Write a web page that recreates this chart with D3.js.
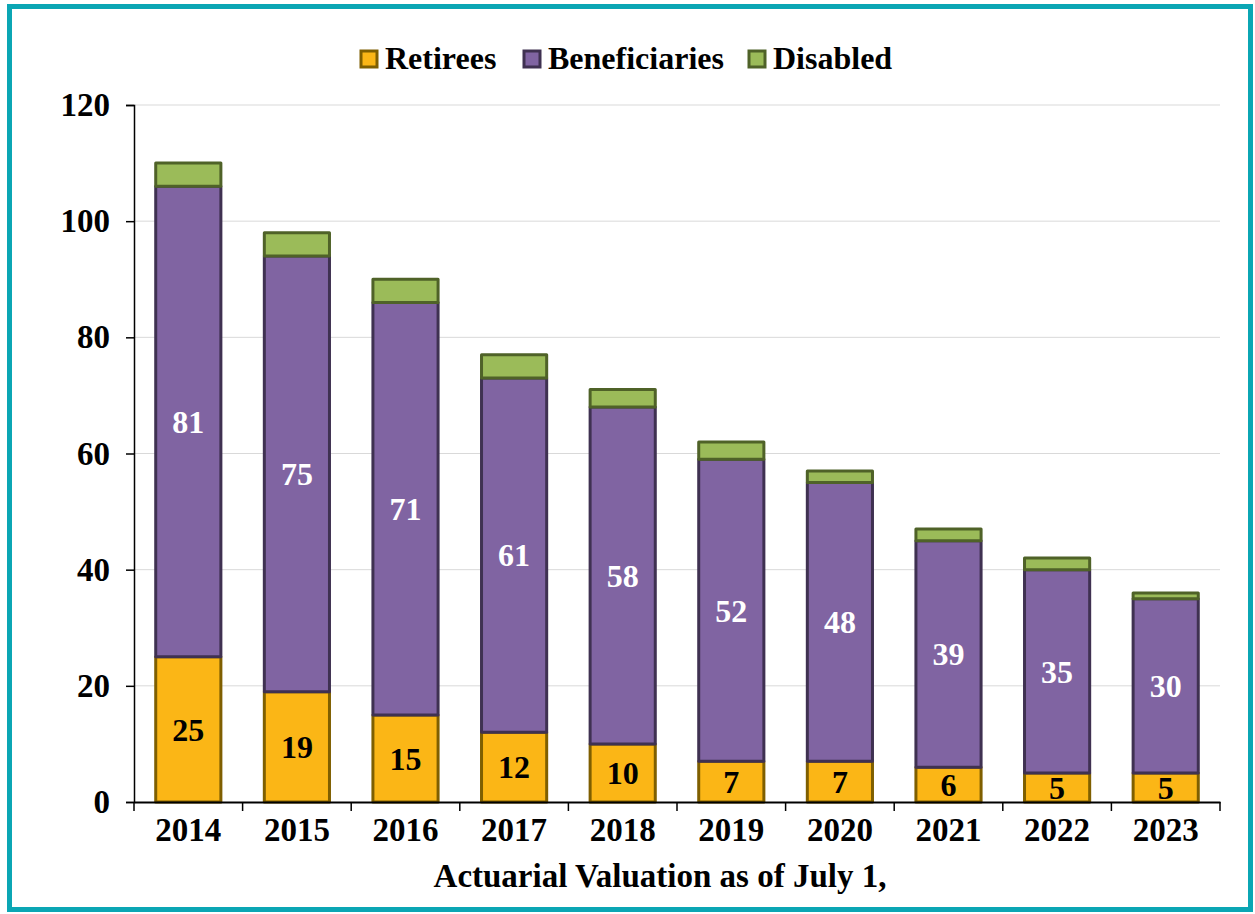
<!DOCTYPE html>
<html>
<head>
  <meta charset="UTF-8">
  <script src="https://d3js.org/d3.v7.min.js"></script>
  <style>
    body { margin: 0; background: #fff; }
    svg text { font-family: "Times New Roman", "Liberation Serif", Tinos, serif; font-weight: bold; }
  </style>
</head>
<body>
  <svg width="1255" height="914" id="chart"></svg>

  <script>
    // data
    let years = ["2014", "2015", "2016", "2017", "2018", "2019", "2020", "2021", "2022", "2023"];
    let retirees = [25, 19, 15, 12, 10, 7, 7, 6, 5, 5];
    let beneficiaries = [81, 75, 71, 61, 58, 52, 48, 39, 35, 30];
    let disabled = [4, 4, 4, 4, 3, 3, 2, 2, 2, 1];
    let yTicks = [0, 20, 40, 60, 80, 100, 120];

    let seriesNames = ["Retirees", "Beneficiaries", "Disabled"];
    let fills = ["#FBB616", "#8064A2", "#9BBB59"];
    let strokes = ["#7F5F00", "#3F3151", "#4F6228"];
    let labelColors = ["#000", "#fff", null];

    let margin = { top: 105, right: 35, bottom: 112, left: 134 };
    let svg = d3.select("#chart");
    let width = +svg.attr("width") - margin.left - margin.right;
    let height = +svg.attr("height") - margin.top - margin.bottom;

    // teal frame
    svg.append("rect")
      .attr("x", 9.5).attr("y", 6.5)
      .attr("width", 1241).attr("height", 903)
      .attr("fill", "none")
      .attr("stroke", "#0BA6B4")
      .attr("stroke-width", 5);

    let table = years.map((y, i) => ({
      year: y, Retirees: retirees[i], Beneficiaries: beneficiaries[i], Disabled: disabled[i]
    }));
    let stacked = d3.stack().keys(seriesNames)(table);

    let x = d3.scaleBand().domain(years).range([0, width]).paddingInner(0.4).paddingOuter(0.2);
    let y = d3.scaleLinear().domain([0, 120]).range([height, 0]);

    let g = svg.append("g").attr("transform", `translate(${margin.left},${margin.top})`);

    // gridlines
    g.append("g")
      .selectAll("line")
      .data(yTicks.filter(t => t > 0))
      .join("line")
      .attr("x1", 0).attr("x2", width)
      .attr("y1", d => y(d)).attr("y2", d => y(d))
      .attr("stroke", "#D9D9D9").attr("stroke-width", 1);

    // bars
    stacked.forEach((s, si) => {
      let layer = g.append("g");
      layer.selectAll("rect")
        .data(s)
        .join("rect")
        .attr("x", d => x(d.data.year))
        .attr("y", d => y(d[1]))
        .attr("width", x.bandwidth())
        .attr("height", d => y(d[0]) - y(d[1]))
        .attr("fill", fills[si])
        .attr("stroke", strokes[si])
        .attr("stroke-width", 3)
        .attr("stroke-linejoin", "round");

      if (labelColors[si]) {
        layer.selectAll("text")
          .data(s)
          .join("text")
          .attr("x", d => x(d.data.year) + x.bandwidth() / 2)
          .attr("y", d => (y(d[0]) + y(d[1])) / 2)
          .attr("dy", "0.35em")
          .attr("text-anchor", "middle")
          .attr("font-size", 32)
          .attr("fill", labelColors[si])
          .text(d => d[1] - d[0]);
      }
    });

    // y axis
    let yAxis = g.append("g")
      .call(d3.axisLeft(y).tickValues(yTicks).tickSize(8).tickPadding(16));
    yAxis.select(".domain").attr("stroke", "#000").attr("stroke-width", 1.5);
    yAxis.selectAll(".tick line").attr("stroke", "#000").attr("stroke-width", 1.5);
    yAxis.selectAll(".tick text")
      .attr("font-size", 33).attr("font-family", null).attr("fill", "#000");

    // x axis
    let xAxis = g.append("g")
      .attr("transform", `translate(0,${height})`)
      .call(d3.axisBottom(x).tickSize(0).tickPadding(16));
    xAxis.select(".domain").attr("stroke", "#000").attr("stroke-width", 2);
    xAxis.selectAll(".tick text")
      .attr("font-size", 33).attr("font-family", null).attr("fill", "#000");
    // tick marks at category boundaries
    let step = x.step();
    g.append("g")
      .selectAll("line")
      .data(d3.range(years.length + 1))
      .join("line")
      .attr("x1", i => i * step).attr("x2", i => i * step)
      .attr("y1", height).attr("y2", height + 9)
      .attr("stroke", "#000").attr("stroke-width", 1.5);

    // x axis title
    svg.append("text")
      .attr("x", 660)
      .attr("y", 887)
      .attr("text-anchor", "middle")
      .attr("font-size", 33)
      .text("Actuarial Valuation as of July 1,");

    // legend
    let legendX = [361, 524, 749];
    let legend = svg.append("g");
    seriesNames.forEach((name, i) => {
      legend.append("rect")
        .attr("x", legendX[i]).attr("y", 51)
        .attr("width", 16).attr("height", 16)
        .attr("fill", fills[i]).attr("stroke", strokes[i]).attr("stroke-width", 3);
      legend.append("text")
        .attr("x", legendX[i] + 24).attr("y", 69)
        .attr("font-size", 32)
        .text(name);
    });
  </script>
</body>
</html>
